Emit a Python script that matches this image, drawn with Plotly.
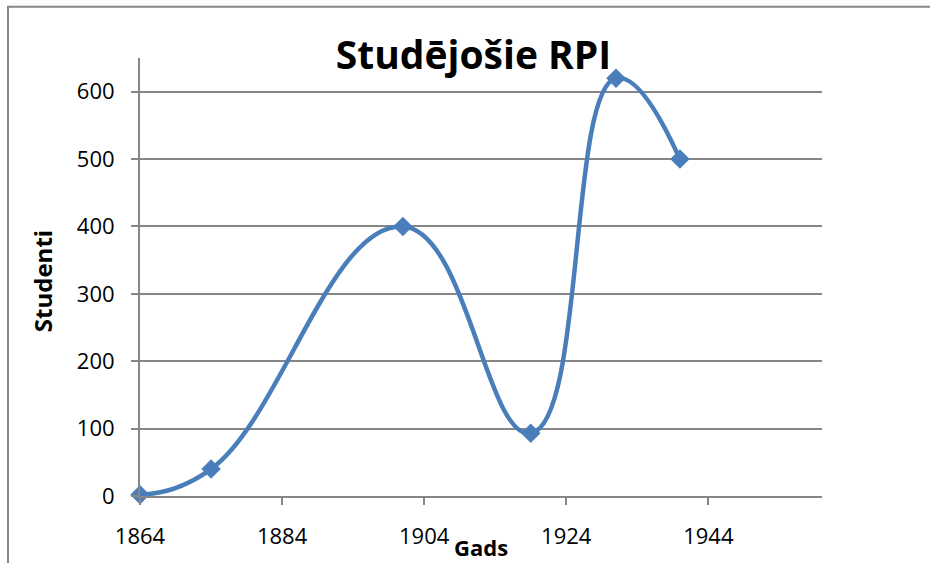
import plotly.graph_objects as go

years = [1864, 1874, 1901, 1919, 1931, 1940]
students = [2, 40, 400, 93, 620, 500]
x_ticks = [1864, 1884, 1904, 1924, 1944]
y_ticks = [0, 100, 200, 300, 400, 500, 600]

blue = "#4a7ebb"
gray = "#868686"
font = "Open Sans"

W, H = 930, 563
L, R, T, B = 140, 822, 58, 495.7

def px(xp):
    return (xp - L) / (R - L)

def py(yp):
    return (B - yp) / (B - T)

fig = go.Figure()
fig.add_trace(go.Scatter(
    x=years, y=students, mode="lines+markers",
    line=dict(color=blue, width=4.5, shape="spline", smoothing=1.3),
    marker=dict(symbol="diamond", size=15, color=blue),
    cliponaxis=False, showlegend=False,
))

fig.update_layout(
    width=W, height=H,
    margin=dict(l=L, r=W - R, t=T, b=H - B, autoexpand=False),
    paper_bgcolor="white", plot_bgcolor="white",
    font=dict(family=font, size=22, color="black"),
    title=dict(text="<b>Studējošie RPI</b>", font=dict(family=font, size=39, color="black"),
               x=473.5 / W, xanchor="center", xref="container",
               y=1 - 55 / H, yanchor="middle", yref="container"),
    xaxis=dict(range=[1864, 1960], tickvals=x_ticks, showgrid=False, zeroline=False,
               showline=True, linecolor=gray, linewidth=2, automargin=False,
               ticks="outside", ticklen=7, tickwidth=2, tickcolor=gray,
               ticklabelstandoff=13),
    yaxis=dict(range=[0, 650], tickvals=y_ticks, showgrid=True, gridcolor=gray, gridwidth=1.5,
               zeroline=False, showline=True, linecolor=gray, linewidth=2, automargin=False,
               ticks="outside", ticklen=7, tickwidth=2, tickcolor=gray,
               ticklabelstandoff=12),
    annotations=[
        dict(text="<b>Gads</b>", xref="paper", yref="paper", x=px(481), y=py(547),
             xanchor="center", yanchor="middle", showarrow=False, font=dict(size=22)),
        dict(text="<b>Studenti</b>", xref="paper", yref="paper", x=px(42), y=py(281),
             xanchor="center", yanchor="middle", showarrow=False, textangle=-90,
             font=dict(size=24)),
    ],
    shapes=[dict(type="rect", xref="paper", yref="paper",
                 x0=px(8), x1=px(940), y0=py(575), y1=py(6.7),
                 line=dict(color=gray, width=2), fillcolor="rgba(0,0,0,0)", layer="below")],
)

fig.write_html("out.html", config={"displayModeBar": False},
               post_script="document.body.style.margin='0';")
